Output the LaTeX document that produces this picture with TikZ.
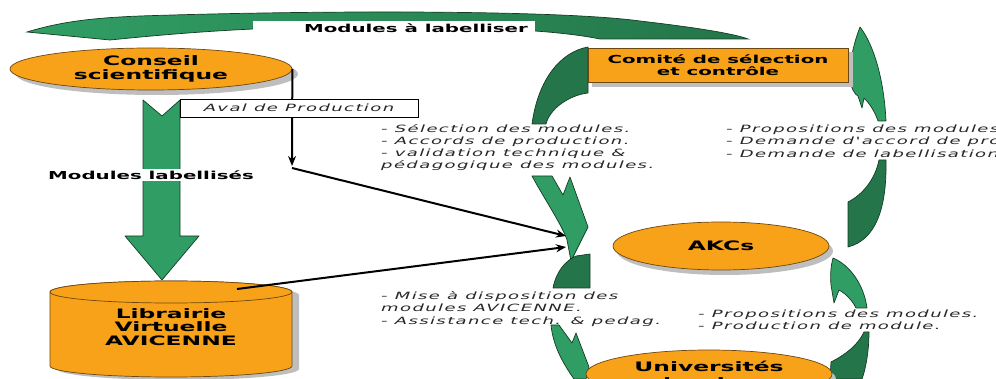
\documentclass[tikz,border=0pt]{standalone}
\usepackage{fontspec}
\usepackage{xcolor}
\usepackage{tikz}
\usetikzlibrary{calc, shapes.geometric, positioning, arrows.meta}

\newfontfamily\labelfont[FakeStretch=1.8]{DejaVu Sans}
\newfontfamily\notefont[FakeStretch=1.8,LetterSpace=14]{DejaVu Sans}

\definecolor{orangeFill}{RGB}{248,162,26}
\definecolor{orangeLine}{RGB}{110,70,15}
\definecolor{greenLight}{RGB}{48,158,100}
\definecolor{greenDark}{RGB}{36,118,74}
\definecolor{greenLine}{RGB}{20,60,35}
\definecolor{dropGrey}{RGB}{190,190,190}

\tikzset{
    orangebox/.style={fill=orangeFill, draw=orangeLine, line width=0.7pt, inner sep=0pt},
    dropgrey/.style={fill=dropGrey, draw=none},
    greenhead/.style={fill=greenLight, draw=greenLine, line width=0.7pt, line join=round},
    greentail/.style={fill=greenDark, draw=greenLine, line width=0.7pt, line join=round},
    lbl/.style={font=\labelfont\bfseries\fontsize{11}{12}\selectfont, align=center, inner sep=0pt},
    biglbl/.style={font=\labelfont\bfseries\fontsize{13}{13.5}\selectfont, align=center},
    note/.style={font=\notefont\itshape\fontsize{10}{12.3}\selectfont, text=black!85, align=left, inner sep=0pt},
    arr/.style={->, line width=2pt}
}

\begin{document}
\begin{tikzpicture}[>={Stealth[length=10pt, width=8pt]}, x=1pt, y=-1pt]

    \useasboundingbox (0,0) rectangle (996,379);
    \clip (0,0) rectangle (996,379);

    % =================================================================
    % MŨI TÊN CONG PHÍA TRÊN: MODULES À LABELLISER
    % =================================================================
    \draw[left color=greenLight, right color=greenDark, draw=greenLine, line width=0.7pt]
        (27,32) .. controls (60,22) and (90,18) .. (140,16)
        .. controls (320,10) and (560,10) .. (640,21)
        .. controls (700,28) and (735,34) .. (748,39)
        -- (600,39) .. controls (560,31) and (500,28) .. (440,28)
        -- (253,29) .. controls (190,32) and (140,37) .. (110,40) -- cycle;
    \fill[white] (253,21) rectangle (535,36);
    \node[lbl] (ML) at (416,28) {Modules à labelliser};

    % =================================================================
    % BÊN TRÁI: CONSEIL, MŨI TÊN XUỐNG, LIBRAIRIE
    % =================================================================
    % Bóng và hình elip Conseil scientifique
    \fill[dropgrey] (157,74) ellipse [x radius=141, y radius=21];
    \node[orangebox, ellipse, minimum width=282, minimum height=42, biglbl, inner sep=0pt]
        (CS) at (151,69) {Conseil\\scientifique};

    % Mũi tên xanh lớn hướng xuống
    \draw[greenhead] (143,100) -- (162,116) -- (180,100) -- (180,236) -- (199,236)
        -- (162,280) -- (125,236) -- (143,236) -- cycle;
    \node[lbl, fill=white, inner sep=2pt] (MLb) at (151,175) {Modules labellisés};

    % Các điểm nối của mũi tên đen
    \coordinate (AV) at (292,166);
    \coordinate (AVb) at (292,168);
    \coordinate (AK1) at (566,236);
    \coordinate (AK2) at (566,247);
    \coordinate (LVtop) at (237,289);

    % Mũi tên đen: Aval de Production
    \draw[arr] (CS.east) -- (AV);
    \node[note, draw=black, line width=0.8pt, fill=white, minimum width=238, minimum height=18]
        (AP) at (299,108) {Aval de Production};

    % Hình trụ Librairie Virtuelle (bóng trước)
    \begin{scope}[xshift=7pt, yshift=-3pt]
        \fill[dropgrey] (50,292) -- (50,366) arc[start angle=180, end angle=0, x radius=121, y radius=11]
            -- (292,292) arc[start angle=0, end angle=-180, x radius=121, y radius=11] -- cycle;
    \end{scope}
    \draw[orangebox] (50,292) -- (50,366) arc[start angle=180, end angle=0, x radius=121, y radius=11]
        -- (292,292) arc[start angle=0, end angle=-180, x radius=121, y radius=11] -- cycle;
    \draw[orangebox] (171,292) ellipse [x radius=121, y radius=11];
    \node[biglbl, inner sep=0pt] (LV) at (171,327) {Librairie\\Virtuelle\\AVICENNE};

    \draw[arr] (AVb) -- (AK1);
    \draw[arr] (LVtop) -- (AK2);

    % =================================================================
    % BÊN PHẢI: CHU TRÌNH COMITÉ - AKCs - UNIVERSITÉS
    % =================================================================
    % Các mũi tên cong bên trái (đi xuống)
    \draw[greentail] (532,124) .. controls (538,80) and (560,52) .. (588,47)
        -- (588,93) .. controls (570,95) and (550,108) .. (546,124) -- cycle;
    \draw[greenhead] (532,176) .. controls (545,200) and (562,225) .. (567,240)
        -- (571,261) -- (588,227) -- (570,177) -- (563,195) -- (552,176) -- cycle;
    \draw[greentail] (553,288) .. controls (556,272) and (565,261) .. (576,256)
        -- (590,254) -- (590,288) -- cycle;
    \draw[greenhead] (551,325) .. controls (553,345) and (562,362) .. (574,379)
        -- (586,379) -- (589,367) -- (576,333) -- (572,343) -- (559,325) -- cycle;

    % Các mũi tên cong bên phải (đi lên)
    \draw[greenhead] (860,27) .. controls (853,45) and (849,65) .. (850,80)
        .. controls (851,88) and (855,95) .. (858,96) -- (862,108) -- (864,98)
        .. controls (870,104) and (875,112) .. (878,121) -- (886,121)
        .. controls (884,80) and (874,45) .. (860,27) -- cycle;
    \draw[greentail] (848,247) -- (848,202) .. controls (862,195) and (875,180) .. (879,160)
        -- (886,160) .. controls (887,210) and (875,240) .. (848,247) -- cycle;
    \draw[greenhead] (833,258) .. controls (850,265) and (864,285) .. (867,308)
        -- (856,308) .. controls (852,300) and (846,294) .. (839,290)
        -- (834,303) -- (831,285) .. controls (830,275) and (831,265) .. (833,258) -- cycle;
    \draw[greentail] (830,379) -- (831,362) .. controls (845,355) and (858,345) .. (864,332)
        -- (869,332) .. controls (869,350) and (866,368) .. (862,379) -- cycle;

    % Khung Comité de sélection et contrôle
    \fill[dropgrey] (592,52) rectangle (853,87);
    \node[orangebox, lbl, minimum width=260, minimum height=34, font=\labelfont\bfseries\fontsize{11}{11.5}\selectfont]
        (CSC) at (718,65) {Comité de sélection\\et contrôle};

    % Elip AKCs
    \fill[dropgrey] (725,251) ellipse [x radius=108, y radius=24];
    \node[orangebox, ellipse, minimum width=216, minimum height=48, biglbl, inner sep=0pt]
        (AKC) at (721,246) {AKCs};

    % Elip Universités locales
    \fill[dropgrey] (713,379) ellipse [x radius=123, y radius=24];
    \node[orangebox, ellipse, minimum width=246, minimum height=48, biglbl, inner sep=0pt,
        font=\labelfont\bfseries\fontsize{13}{16}\selectfont]
        (UL) at (709,374) {Universités\\locales};

    % Các dòng ghi chú
    \node[note, anchor=west] (N1) at (381,147.5)
        {- Sélection des modules.\\- Accords de production.\\- validation technique \&\\pédagogique des modules.};
    \node[note, anchor=west] (N2) at (726,141)
        {- Propositions des modules.\\- Demande d'accord de production.\\- Demande de labellisation.};
    \node[note, anchor=west] (N3) at (381,309)
        {- Mise à disposition des\\modules AVICENNE.\\- Assistance tech. \& pedag.};
    \node[note, anchor=west] (N4) at (698,319.5)
        {- Propositions des modules.\\- Production de module.};

\end{tikzpicture}
\end{document}
